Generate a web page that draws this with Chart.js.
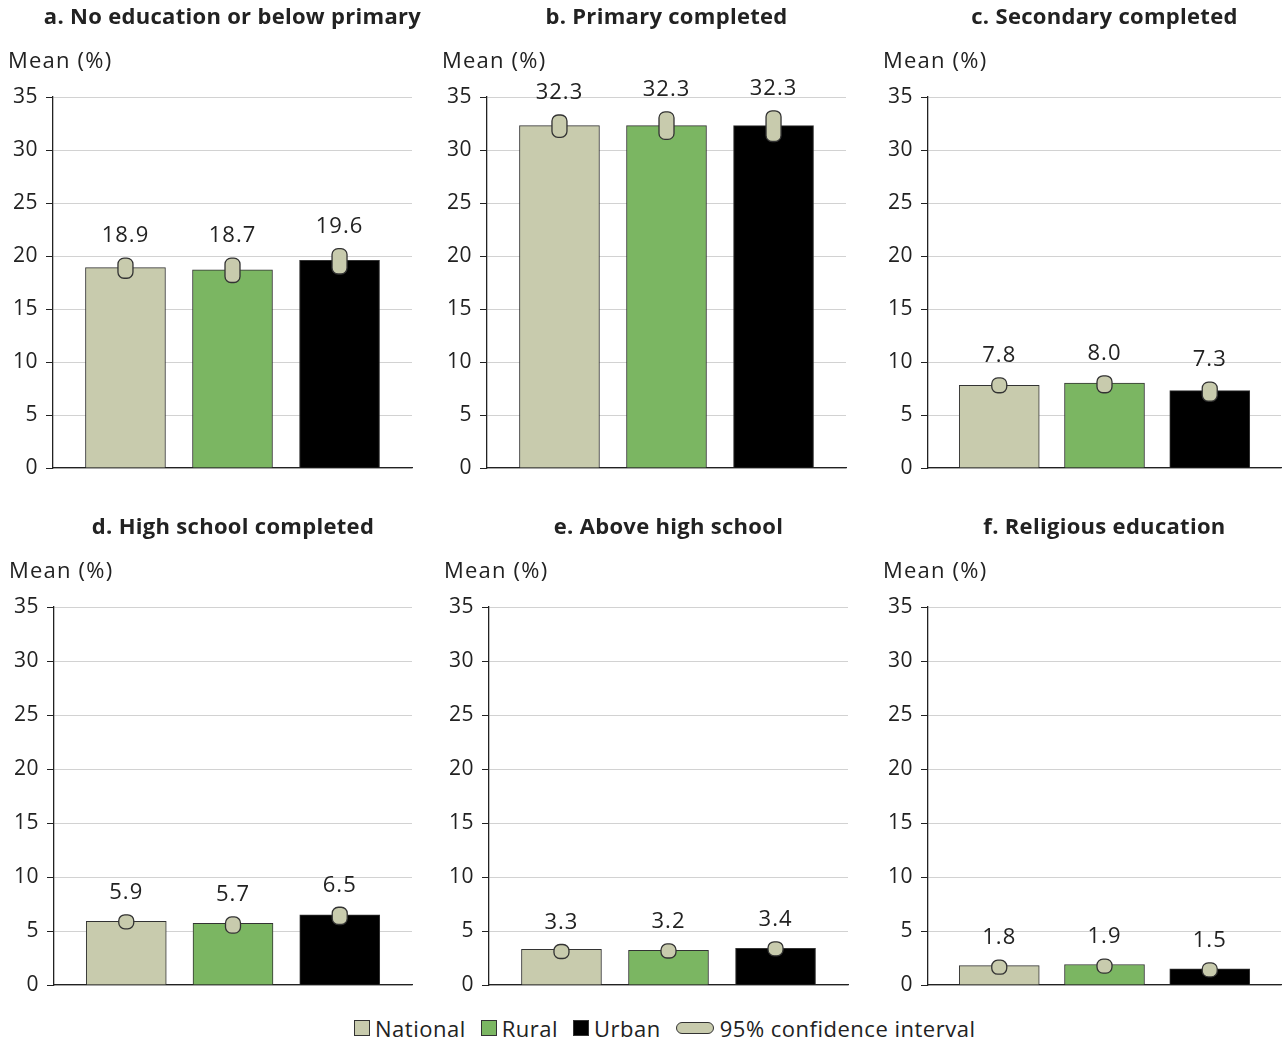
<!DOCTYPE html>
<html>
<head>
<meta charset="utf-8">
<script src="https://cdn.jsdelivr.net/npm/chart.js@4/dist/chart.umd.min.js"></script>
<style>
  html, body { margin:0; padding:0; background:#fff; }
  body { width:1282px; height:1043px; position:relative; overflow:hidden; font-family:"Open Sans", sans-serif; }
  canvas { position:absolute; }
  #legend { position:absolute; left:354px; top:1013px; display:flex; align-items:center; font-size:22px; color:#222; white-space:nowrap; letter-spacing:0.5px; }
  .sw { display:inline-block; width:16px; height:16px; border:1px solid #333; margin-right:5px; box-sizing:border-box; }
  .pill { display:inline-block; width:38px; height:12px; border:1.5px solid #333; border-radius:7px; background:#c8cbad; margin-right:6px; box-sizing:border-box; }
  .item { display:flex; align-items:center; margin-right:15px; }
</style>
</head>
<body>
<div id="legend"></div>
<script>
// ---- DATA ----
const panelTitles = ["a. No education or below primary", "b. Primary completed", "c. Secondary completed",
                     "d. High school completed", "e. Above high school", "f. Religious education"];
const groups = ["National", "Rural", "Urban"];
const nationalVals = [18.9, 32.3, 7.8, 5.9, 3.3, 1.8];
const ruralVals    = [18.7, 32.3, 8.0, 5.7, 3.2, 1.9];
const urbanVals    = [19.6, 32.3, 7.3, 6.5, 3.4, 1.5];
const nationalLo = [17.9, 31.2, 7.1, 5.3, 2.5, 1.2];
const nationalHi = [19.8, 33.3, 8.5, 6.4, 3.7, 2.1];
const ruralLo    = [17.5, 31.0, 7.1, 4.8, 2.5, 1.2];
const ruralHi    = [19.8, 33.6, 8.7, 6.3, 3.8, 2.3];
const urbanLo    = [18.3, 30.8, 6.3, 5.6, 2.7, 0.8];
const urbanHi    = [20.7, 33.7, 8.1, 7.2, 4.0, 2.0];
const yTicks = [0, 5, 10, 15, 20, 25, 30, 35];
const yAxisLabel = "Mean (%)";
const ciLabel = "95% confidence interval";

// ---- STYLE / LAYOUT ----
const FONT = '"Open Sans", sans-serif';
const colors = ["#c8cbad", "#7bb662", "#000000"];
const ciFill = "#c8cbad";
const ink = "#222";
const layout = [
  {axisX:53, right:412, row:0}, {axisX:487, right:846, row:0}, {axisX:928, right:1281, row:0},
  {axisX:54, right:412, row:1}, {axisX:489, right:848, row:1}, {axisX:928, right:1281, row:1}
];
const rows = [
  {top:0,   titleY:18,  meanY:62,  plotTop:97,  plotBottom:468},
  {top:500, titleY:528, meanY:572, plotTop:607, plotBottom:985}
];
const BOTTOM_PAD = 22;
const RIGHT_PAD = 14;

function roundRect(ctx, x, y, w, h, r) {
  r = Math.min(r, w/2, h/2);
  ctx.beginPath();
  ctx.moveTo(x + r, y);
  ctx.lineTo(x + w - r, y);
  ctx.arcTo(x + w, y, x + w, y + r, r);
  ctx.lineTo(x + w, y + h - r);
  ctx.arcTo(x + w, y + h, x + w - r, y + h, r);
  ctx.lineTo(x + r, y + h);
  ctx.arcTo(x, y + h, x, y + h - r, r);
  ctx.lineTo(x, y + r);
  ctx.arcTo(x, y, x + r, y, r);
  ctx.closePath();
}

const decorPlugin = {
  id: 'decor',
  beforeDraw(chart) {
    chart.ctx.letterSpacing = '0.5px';
  },
  afterDatasetsDraw(chart, args, opts) {
    const ctx = chart.ctx;
    const ys = chart.scales.y;
    const meta = chart.getDatasetMeta(0);
    const ds = chart.data.datasets[0];
    ctx.save();
    meta.data.forEach((bar, i) => {
      const lo = ds.ciLo[i], hi = ds.ciHi[i];
      const yTop = ys.getPixelForValue(hi);
      const yBot = ys.getPixelForValue(lo);
      let h = yBot - yTop;
      let top = yTop;
      const minH = 14;
      if (h < minH) { top -= (minH - h) / 2; h = minH; }
      const w = 15;
      roundRect(ctx, bar.x - w/2, top, w, h, 6);
      ctx.fillStyle = ciFill;
      ctx.fill();
      ctx.lineWidth = 1.3;
      ctx.strokeStyle = "#333";
      ctx.stroke();
      const labelTop = Math.min(top, bar.y);
      ctx.fillStyle = ink;
      ctx.font = "22px " + FONT;
      ctx.letterSpacing = '1px';
      ctx.textAlign = "center";
      ctx.textBaseline = "middle";
      ctx.fillText(ds.data[i].y.toFixed(1), bar.x, labelTop - 22);
    });
    ctx.restore();
  },
  afterDraw(chart, args, opts) {
    const ctx = chart.ctx;
    const ca = chart.chartArea;
    ctx.save();
    ctx.fillStyle = ink;
    ctx.textBaseline = "middle";
    ctx.font = "bold 22px " + FONT;
    ctx.letterSpacing = '0.3px';
    ctx.textAlign = "center";
    ctx.fillText(opts.title, (ca.left + ca.right) / 2, opts.titleY);
    ctx.font = "22px " + FONT;
    ctx.letterSpacing = '1.2px';
    ctx.textAlign = "left";
    ctx.fillText(yAxisLabel, ca.left - 45, opts.meanY);
    ctx.restore();
  }
};

for (let p = 0; p < 6; p++) {
  const L = layout[p];
  const R = rows[L.row];
  const left = L.axisX - 53;
  const width = L.right - left + RIGHT_PAD;
  const height = R.plotBottom - R.top + BOTTOM_PAD;
  const cv = document.createElement('canvas');
  cv.width = width; cv.height = height;
  cv.style.left = left + "px"; cv.style.top = R.top + "px";
  cv.style.width = width + "px"; cv.style.height = height + "px";
  document.body.appendChild(cv);

  const vals = [nationalVals[p], ruralVals[p], urbanVals[p]];
  const los = [nationalLo[p], ruralLo[p], urbanLo[p]];
  const his = [nationalHi[p], ruralHi[p], urbanHi[p]];

  new Chart(cv, {
    type: 'bar',
    data: {
      datasets: [{
        data: vals.map((v, i) => ({x: i, y: v})),
        ciLo: los, ciHi: his,
        backgroundColor: colors,
        borderColor: "#333",
        borderWidth: 1,
        borderSkipped: 'bottom',
        barThickness: 80
      }]
    },
    options: {
      responsive: false,
      animation: false,
      devicePixelRatio: 1,
      layout: { padding: { left: 0, right: RIGHT_PAD, top: R.plotTop - R.top, bottom: BOTTOM_PAD } },
      plugins: {
        legend: { display: false },
        tooltip: { enabled: false },
        decor: { title: panelTitles[p], titleY: R.titleY - R.top, meanY: R.meanY - R.top }
      },
      scales: {
        x: {
          type: 'linear', min: -0.677, max: 2.677, offset: false,
          ticks: { display: false },
          grid: { display: false, drawTicks: false },
          border: { display: true, color: "#222", width: 1.3 },
          afterFit(s) { s.height = 0; }
        },
        y: {
          min: 0, max: 35,
          afterBuildTicks(s) { s.ticks = yTicks.map(v => ({value: v})); },
          ticks: { color: ink, font: { family: FONT, size: 21 }, padding: 8 },
          grid: { color: "#d2d2d2", lineWidth: 1, tickColor: "#222", tickLength: 7 },
          border: { display: true, color: "#222", width: 1.3 },
          afterFit(s) { s.width = 53; }
        }
      }
    },
    plugins: [decorPlugin]
  });
}

// legend
const lg = document.getElementById('legend');
groups.forEach((g, i) => {
  const it = document.createElement('span');
  it.className = 'item';
  it.innerHTML = '<span class="sw" style="background:' + colors[i] + '"></span>' + g;
  lg.appendChild(it);
});
const ci = document.createElement('span');
ci.className = 'item';
ci.innerHTML = '<span class="pill"></span>' + ciLabel;
lg.appendChild(ci);
</script>
</body>
</html>
